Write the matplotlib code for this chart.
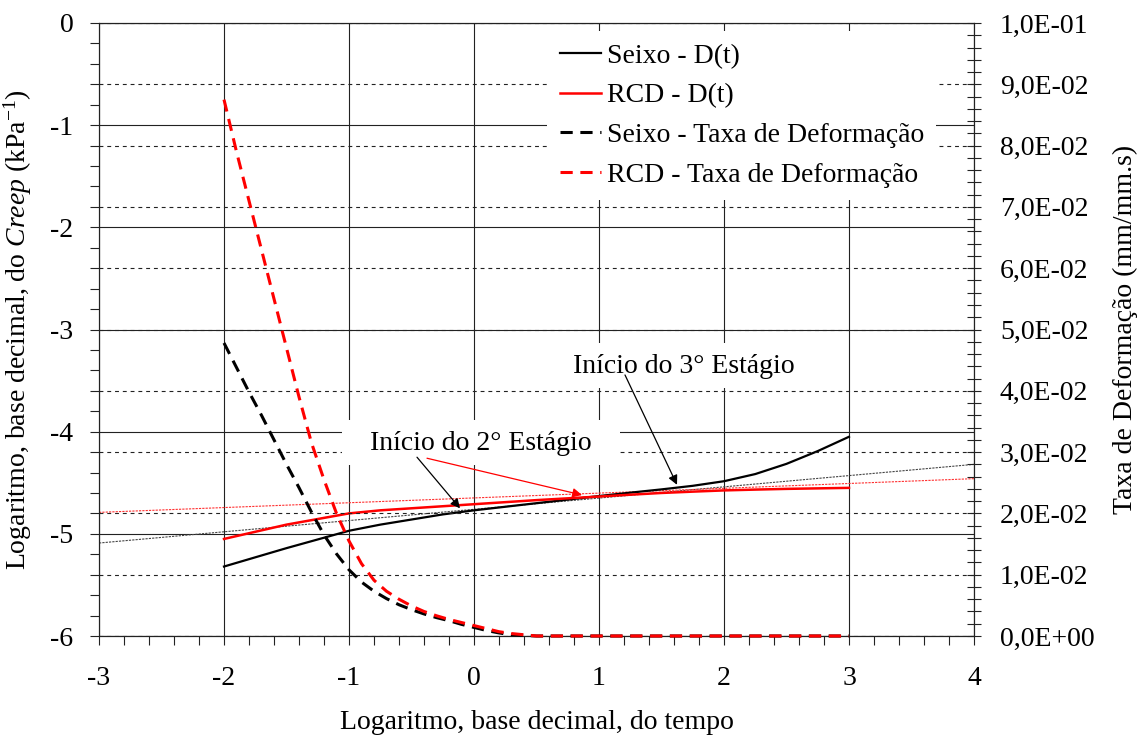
import matplotlib
matplotlib.use("Agg")
import matplotlib.pyplot as plt
from matplotlib.ticker import MultipleLocator, FuncFormatter
from matplotlib.patches import Rectangle

plt.rcParams['font.family'] = ['Liberation Serif', 'DejaVu Serif']
plt.rcParams['mathtext.fontset'] = 'custom'
plt.rcParams['mathtext.rm'] = 'Liberation Serif'
plt.rcParams['mathtext.it'] = 'Liberation Serif:italic'
plt.rcParams['axes.unicode_minus'] = False

# --- creep compliance D(t), log10 scale (left axis) ---
log_t_dt = [-2.0, -1.5, -1.0, -0.75, -0.5, -0.25, 0.0, 0.5, 1.0, 1.25, 1.5, 1.75, 2.0, 2.25, 2.5, 2.75, 3.0]
seixo_dt = [-5.32, -5.14, -4.97, -4.91, -4.86, -4.81, -4.77, -4.70, -4.63, -4.597, -4.565, -4.53,
            -4.485, -4.415, -4.315, -4.19, -4.05]
rcd_dt = [-5.05, -4.91, -4.80, -4.77, -4.75, -4.73, -4.71, -4.67, -4.635, -4.617, -4.60, -4.587,
          -4.575, -4.567, -4.56, -4.555, -4.55]

# tangent (secondary stage) lines
tan_x = [-3.0, 4.0]
seixo_tan = [-5.09, -4.32]
rcd_tan = [-4.79, -4.46]

# --- strain rate (right axis, mm/mm.s) ---
log_t_rate = [-2.0, -1.9, -1.8, -1.7, -1.6, -1.5, -1.4, -1.3, -1.2, -1.1, -1.0, -0.9, -0.8, -0.7,
              -0.6, -0.5, -0.4, -0.3, -0.2, -0.1, 0.0, 0.1, 0.2, 0.3, 0.4, 0.5, 0.75, 1.0, 1.5,
              2.0, 2.5, 3.0]
seixo_rate = [0.0478, 0.0438, 0.0398, 0.0360, 0.0320, 0.0280, 0.0242, 0.0202, 0.0165, 0.0134,
              0.0108, 0.0088, 0.0073, 0.0061, 0.0051, 0.0043, 0.0036, 0.0030, 0.0025, 0.0019,
              0.0014, 0.0009, 0.0005, 0.0002, 0.0001, 0.0, 0.0, 0.0, 0.0, 0.0, 0.0, 0.0]
rcd_rate = [0.0875, 0.0790, 0.0710, 0.0630, 0.0550, 0.0470, 0.0390, 0.0315, 0.0255, 0.0200,
            0.0155, 0.0118, 0.0091, 0.0073, 0.0060, 0.0049, 0.0040, 0.0033, 0.0027, 0.0022,
            0.0017, 0.0012, 0.0007, 0.0004, 0.0002, 0.0, 0.0, 0.0, 0.0, 0.0, 0.0, 0.0]

legend_labels = ['Seixo - D(t)', 'RCD - D(t)', 'Seixo - Taxa de Deformação', 'RCD - Taxa de Deformação']

FS = 20

fig = plt.figure(figsize=(11.45, 7.38), dpi=100)
ax = fig.add_axes([99 / 1145, 1 - 636 / 738, 875 / 1145, 613 / 738])
ax2 = ax.twinx()

# left axis
ax.set_xlim(-3, 4)
ax.set_ylim(-6, 0)
ax.xaxis.set_major_locator(MultipleLocator(1))
ax.xaxis.set_minor_locator(MultipleLocator(0.2))
ax.yaxis.set_major_locator(MultipleLocator(1))
ax.yaxis.set_minor_locator(MultipleLocator(0.2))
ax.tick_params(which='both', direction='out', length=6.5, width=0.8, labelsize=FS, color='#222')
ax.tick_params(axis='x', which='both', pad=15)
ax.tick_params(axis='y', which='both', pad=12)
ax.grid(which='major', color='#222', lw=0.8, ls='-')
for s in ax.spines.values():
    s.set_linewidth(0.8)
    s.set_color('#222')

ax.plot(tan_x, seixo_tan, color='#444', lw=0.8, ls=(0, (2, 1)), zorder=3)
ax.plot(tan_x, rcd_tan, color='#ff3030', lw=0.8, ls=(0, (2, 1)), zorder=3)
h1, = ax.plot(log_t_dt, seixo_dt, color='black', lw=1.6, zorder=4)
h2, = ax.plot(log_t_dt, rcd_dt, color='#ff0000', lw=1.8, zorder=4)

ax.set_xlabel('Logaritmo, base decimal, do tempo', fontsize=FS)
ax.xaxis.set_label_coords(0.5, -0.12)
ax.set_ylabel(r'Logaritmo, base decimal, do $\mathit{Creep}$ (kPa$^{-1}$)', fontsize=FS)
ax.yaxis.set_label_coords(-0.074, 0.5)

# right axis
ax2.set_ylim(0, 0.1)
ax2.yaxis.set_major_locator(MultipleLocator(0.01))
ax2.yaxis.set_minor_locator(MultipleLocator(0.002))
ax2.yaxis.set_major_formatter(FuncFormatter(lambda v, p: f"{v:.1E}".replace('.', ',')))
ax2.tick_params(axis='y', which='both', direction='inout', length=9.4, width=0.8,
                labelsize=FS, pad=14, color='#222')
ax2.grid(axis='y', which='major', color='#222', lw=0.8, ls=(0, (3.5, 3.5)))
for s in ax2.spines.values():
    s.set_linewidth(0.8)
    s.set_color('#222')

dash = (0, (4, 2.5))
h3, = ax2.plot(log_t_rate, seixo_rate, color='black', lw=2.2, ls=dash, clip_on=False, zorder=3)
h4, = ax2.plot(log_t_rate, rcd_rate, color='#ff0000', lw=2.2, ls=dash, clip_on=False, zorder=3)

ax2.set_ylabel('Taxa de Deformação (mm/mm.s)', fontsize=FS)
ax2.yaxis.set_label_coords(1.159, 0.5)

# annotation boxes and texts
T = ax.transData
ax2.add_patch(Rectangle((-1.056, -4.326), 2.224, 0.44, transform=T, facecolor='white',
                        edgecolor='none', zorder=2.5))
ax2.add_patch(Rectangle((0.57, -3.57), 2.224, 0.44, transform=T, facecolor='white',
                        edgecolor='none', zorder=2.5))
ax2.text(0.056, -4.12, 'Início do 2° Estágio', transform=T, fontsize=FS,
         ha='center', va='center', zorder=4)
ax2.text(1.68, -3.36, 'Início do 3° Estágio', transform=T, fontsize=FS,
         ha='center', va='center', zorder=4)

arrow = dict(arrowstyle='-|>', lw=0.9, mutation_scale=14, shrinkA=0, shrinkB=0)
ax2.annotate('', xy=(-0.112, -4.75), xytext=(-0.456, -4.25), xycoords=T, textcoords=T,
             arrowprops=dict(arrow, color='black'), zorder=5)
ax2.annotate('', xy=(0.864, -4.62), xytext=(-0.376, -4.26), xycoords=T, textcoords=T,
             arrowprops=dict(arrow, color='#ff0000'), zorder=5)
ax2.annotate('', xy=(1.624, -4.52), xytext=(1.208, -3.445), xycoords=T, textcoords=T,
             arrowprops=dict(arrow, color='black'), zorder=5)

leg = ax2.legend([h1, h2, h3, h4], legend_labels, loc='upper left',
                 bbox_to_anchor=(547 / 1145, 1 - 31 / 738), bbox_transform=fig.transFigure,
                 fontsize=FS, frameon=True, fancybox=False, framealpha=1, edgecolor='none',
                 facecolor='white', handlelength=1.5, handletextpad=0.2, labelspacing=0.51,
                 borderpad=0.45, borderaxespad=0)
leg.set_zorder(6)

fig.savefig('out.png', dpi=100)
